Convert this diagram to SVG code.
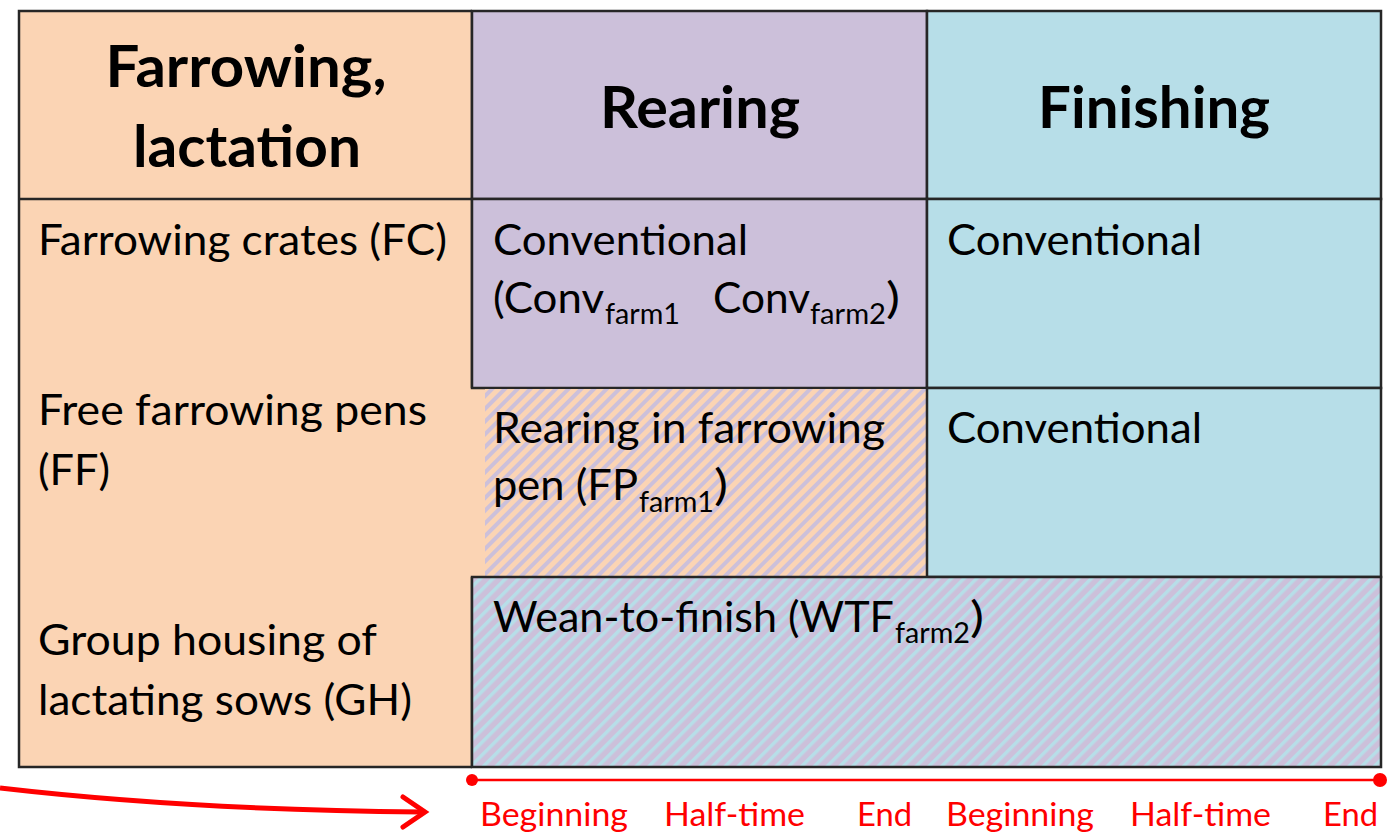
<svg xmlns="http://www.w3.org/2000/svg" width="1389" height="833" viewBox="0 0 1389 833">
<defs>
<style>
.t{font-family:Lato,"Liberation Sans",sans-serif;font-size:43px;fill:#000}
.s{font-size:28px}
.h{font-family:Lato,"Liberation Sans",sans-serif;font-weight:bold;font-size:57px;text-anchor:middle;fill:#000}
.r{font-family:Lato,"Liberation Sans",sans-serif;font-size:33px;fill:#ff0000}
.b{stroke:#262626;stroke-width:2.5;fill:none}
</style>
<pattern id="fp" patternUnits="userSpaceOnUse" width="9" height="9" patternTransform="rotate(45)">
<rect width="9" height="9" fill="#FBD4B4"/><rect width="4" height="9" fill="#CCC0DA"/>
</pattern>
<pattern id="wtf" patternUnits="userSpaceOnUse" width="9" height="9" patternTransform="rotate(45)">
<rect width="9" height="9" fill="#CCC0DA"/><rect width="3.5" height="9" fill="#B7DEE8"/>
</pattern>
</defs>
<rect width="1389" height="833" fill="#fff"/>
<g id="col-farrowing">
<rect x="19" y="11" width="466" height="756" fill="#FBD4B4"/>
<path class="b" d="M472 11H19V767H472M19 199H472M472 11V388M472 577V767"/>
<text class="h" x="246" y="87" textLength="281" lengthAdjust="spacingAndGlyphs">Farrowing,</text>
<text class="h" x="247" y="167" textLength="228" lengthAdjust="spacingAndGlyphs">lactation</text>
<text class="t" x="38" y="255" textLength="409" lengthAdjust="spacingAndGlyphs">Farrowing crates (FC)</text>
<text class="t" x="38" y="425" textLength="389" lengthAdjust="spacingAndGlyphs">Free farrowing pens</text>
<text class="t" x="38" y="485" textLength="72" lengthAdjust="spacingAndGlyphs">(FF)</text>
<text class="t" x="38" y="655" textLength="339" lengthAdjust="spacingAndGlyphs">Group housing of</text>
<text class="t" x="38" y="715" textLength="374" lengthAdjust="spacingAndGlyphs">lactating sows (GH)</text>
</g>
<g id="hdr-rearing">
<rect x="472" y="11" width="455" height="188" fill="#CCC0DA"/>
<path class="b" d="M472 11H927V199H472Z"/>
<text class="h" x="700" y="128" textLength="200" lengthAdjust="spacingAndGlyphs">Rearing</text>
</g>
<g id="hdr-finishing">
<rect x="927" y="11" width="454" height="188" fill="#B7DEE8"/>
<path class="b" d="M927 11H1381V199H927Z"/>
<text class="h" x="1154" y="128" textLength="232" lengthAdjust="spacingAndGlyphs">Finishing</text>
</g>
<g id="rearing-conv">
<rect x="472" y="199" width="455" height="189" fill="#CCC0DA"/>
<path class="b" d="M472 199H927V388H472Z"/>
<text class="t" x="493" y="255" textLength="255" lengthAdjust="spacingAndGlyphs">Conventional</text>
<text class="t" x="493" y="313" textLength="111" lengthAdjust="spacingAndGlyphs">(Conv</text>
<text class="t s" x="605" y="324" textLength="75" lengthAdjust="spacingAndGlyphs">farm1</text>
<text class="t" x="713" y="313" textLength="97" lengthAdjust="spacingAndGlyphs">Conv</text>
<text class="t s" x="810" y="324" textLength="76" lengthAdjust="spacingAndGlyphs">farm2</text>
<text class="t" x="886" y="313" textLength="14" lengthAdjust="spacingAndGlyphs">)</text>
</g>
<g id="finishing-conv1">
<rect x="927" y="199" width="454" height="189" fill="#B7DEE8"/>
<path class="b" d="M927 199H1381V388H927Z"/>
<text class="t" x="947" y="255" textLength="255" lengthAdjust="spacingAndGlyphs">Conventional</text>
</g>
<g id="rearing-fp">
<rect x="485" y="389" width="442" height="188" fill="url(#fp)"/>
<text class="t" x="493" y="443" textLength="392" lengthAdjust="spacingAndGlyphs">Rearing in farrowing</text>
<text class="t" x="493" y="500" textLength="145" lengthAdjust="spacingAndGlyphs">pen (FP</text>
<text class="t s" x="639" y="512" textLength="75" lengthAdjust="spacingAndGlyphs">farm1</text>
<text class="t" x="714" y="500" textLength="14" lengthAdjust="spacingAndGlyphs">)</text>
</g>
<g id="finishing-conv2">
<rect x="927" y="388" width="454" height="189" fill="#B7DEE8"/>
<path class="b" d="M927 388H1381V577H927Z"/>
<text class="t" x="947" y="443" textLength="255" lengthAdjust="spacingAndGlyphs">Conventional</text>
</g>
<g id="wtf">
<rect x="472" y="577" width="909" height="190" fill="url(#wtf)"/>
<path class="b" d="M472 577H1381V767H472Z"/>
<text class="t" x="493" y="632" textLength="401" lengthAdjust="spacingAndGlyphs">Wean-to-finish (WTF</text>
<text class="t s" x="895" y="643" textLength="75" lengthAdjust="spacingAndGlyphs">farm2</text>
<text class="t" x="970" y="632" textLength="14" lengthAdjust="spacingAndGlyphs">)</text>
</g>
<g id="connectors" stroke="#ff0000" fill="none">
<path d="M0 788Q190 810 422 812" stroke-width="5"/>
<path d="M403 797L425 812L403 827" stroke-width="5" stroke-linecap="round" stroke-linejoin="miter"/>
<line x1="472" y1="780" x2="1381" y2="780" stroke-width="2.5"/>
<circle cx="472" cy="780" r="6" fill="#ff0000" stroke="none"/>
<circle cx="1380" cy="780" r="7" fill="#ff0000" stroke="none"/>
</g>
<g id="timeline-labels">
<text class="r" x="480" y="826" textLength="148" lengthAdjust="spacingAndGlyphs">Beginning</text>
<text class="r" x="664" y="826" textLength="141" lengthAdjust="spacingAndGlyphs">Half-time</text>
<text class="r" x="857" y="826" textLength="55" lengthAdjust="spacingAndGlyphs">End</text>
<text class="r" x="946" y="826" textLength="148" lengthAdjust="spacingAndGlyphs">Beginning</text>
<text class="r" x="1130" y="826" textLength="141" lengthAdjust="spacingAndGlyphs">Half-time</text>
<text class="r" x="1323" y="826" textLength="55" lengthAdjust="spacingAndGlyphs">End</text>
</g>
</svg>
